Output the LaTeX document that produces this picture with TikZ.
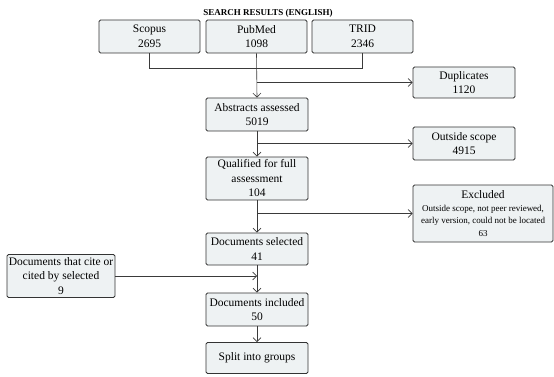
\documentclass[tikz,border=0pt]{standalone}
\usepackage{fontspec}
\setmainfont{Liberation Serif}
\usetikzlibrary{arrows.meta}
\definecolor{boxfill}{HTML}{EEF2F3}
\definecolor{boxline}{HTML}{333333}
\definecolor{conn}{HTML}{3A3A3A}
\tikzset{
  fbox/.style={draw=boxline, line width=0.9pt, fill=boxfill, rounded corners=1.5pt,
    inner sep=0pt, align=center, font=\fontsize{11.5}{14.5}\selectfont},
  conline/.style={draw=conn, line width=0.6pt},
  conarrow/.style={conline, -{Straight Barb[length=4pt,width=8pt]}},
}
\begin{document}
\begin{tikzpicture}[x=1pt,y=-1pt]
\useasboundingbox (0,0) rectangle (554,377);
\node[font=\bfseries\fontsize{9}{11}\selectfont] (title) at (268,13) {SEARCH RESULTS (ENGLISH)};
\node[fbox, minimum width=101pt, minimum height=33pt] (scopus) at (149.5,36.5) {Scopus\\2695};
\node[fbox, minimum width=101pt, minimum height=33pt] (pubmed) at (256.5,36.5) {PubMed\\1098};
\node[fbox, minimum width=101pt, minimum height=33pt] (trid) at (362.5,36.5) {TRID\\2346};
\node[fbox, minimum width=102pt, minimum height=31pt] (dup) at (464,82.5) {Duplicates\\1120};
\node[fbox, minimum width=102pt, minimum height=33pt] (abs) at (257,114.5) {Abstracts assessed\\5019};
\node[fbox, minimum width=102pt, minimum height=33pt] (out) at (464,143.5) {Outside scope\\4915};
\node[fbox, minimum width=102pt, minimum height=43pt] (qual) at (257,178.5) {Qualified for full\\assessment\\104};
\node[fbox, minimum width=140pt, minimum height=57pt, font=\fontsize{9}{12.5}\selectfont] (excl) at (483,213.5) {{\fontsize{11.5}{12.5}\selectfont Excluded}\\Outside scope, not peer reviewed,\\early version, could not be located\\63};
\node[fbox, minimum width=102pt, minimum height=32pt] (sel) at (257,249) {Documents selected\\41};
\node[fbox, minimum width=108pt, minimum height=43pt] (cite) at (61,276) {Documents that cite or\\cited by selected\\9};
\node[fbox, minimum width=102pt, minimum height=33pt] (incl) at (257,309.5) {Documents included\\50};
\node[fbox, minimum width=102pt, minimum height=31pt] (split) at (257,358) {Split into groups};
\coordinate (j) at (257,68);
\draw[conline] (scopus.south) |- (j);
\draw[conline] (trid.south) |- (j);
\draw[conarrow] (pubmed.south) -- (abs.north);
\draw[conarrow] (pubmed.south |- dup.west) -- (dup.west);
\draw[conarrow] (abs.south) -- (qual.north);
\draw[conarrow] (abs.south |- out.west) -- (out.west);
\draw[conarrow] (qual.south) -- (sel.north);
\draw[conarrow] (qual.south |- excl.west) -- (excl.west);
\draw[conarrow] (sel.south) -- (incl.north);
\draw[conarrow] (cite.east) -- (cite.east -| sel.south);
\draw[conarrow] (incl.south) -- (split.north);
\end{tikzpicture}
\end{document}
